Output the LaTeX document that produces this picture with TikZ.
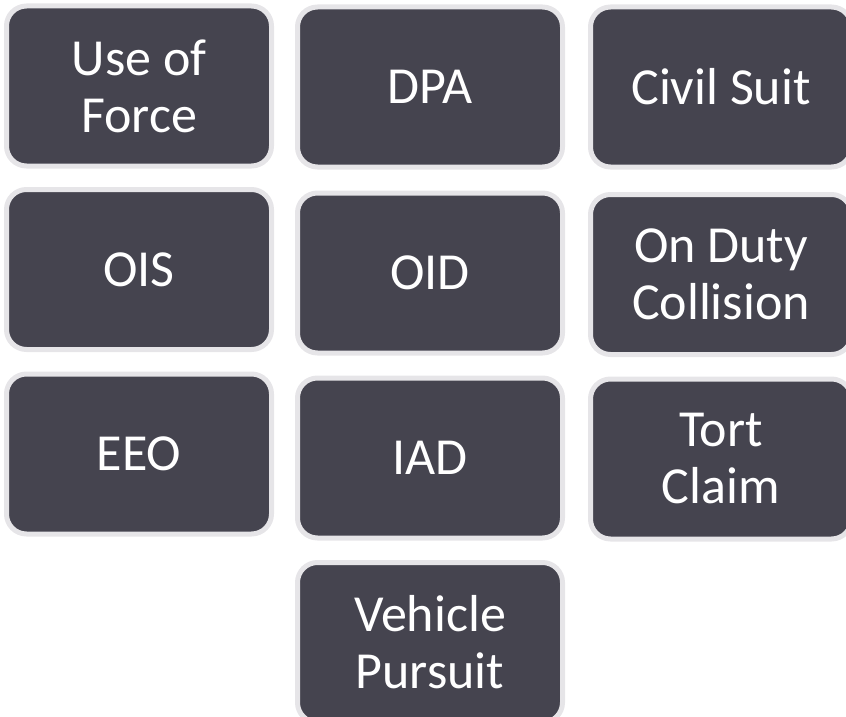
\documentclass[tikz,border=0pt]{standalone}
\usepackage{fontspec}
\setmainfont{Carlito}
\definecolor{boxfill}{RGB}{69,68,79}
\definecolor{boxline}{RGB}{230,229,232}
\begin{document}
\begin{tikzpicture}[x=1pt,y=-1pt,
  tile/.style={draw=boxline, fill=boxfill, line width=5pt, rounded corners=20pt,
    text=white, align=center, inner sep=0pt, minimum width=265pt, minimum height=160pt,
    font=\fontsize{52}{57}\selectfont},
  narrow/.style={minimum width=261pt}]
\useasboundingbox (0,0) rectangle (846,717);
\node[tile] (uof) at (139,86) {Use of\\Force};
\node[tile] (dpa) at (430,87) {DPA};
\node[tile,narrow] (civ) at (721,87) {Civil Suit};
\node[tile] (ois) at (139,269.5) {OIS};
\node[tile] (oid) at (430,273) {OID};
\node[tile,narrow] (odc) at (721,274.5) {On Duty\\Collision};
\node[tile] (eeo) at (139,454) {EEO};
\node[tile] (iad) at (430,458) {IAD};
\node[tile,narrow] (tort) at (721,459) {Tort\\Claim};
\node[tile] (veh) at (430,642.5) {Vehicle\\Pursuit};
\end{tikzpicture}
\end{document}
